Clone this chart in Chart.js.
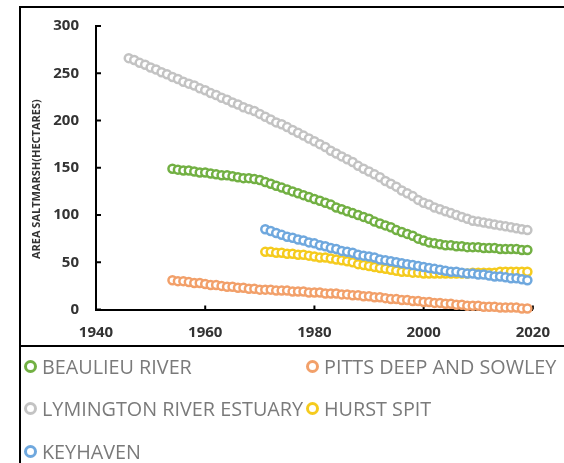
<!DOCTYPE html>
<html>
<head>
<meta charset="utf-8">
<script src="https://cdn.jsdelivr.net/npm/chart.js@4/dist/chart.umd.min.js"></script>
<style>
    body { margin: 0; background: #fff; width: 564px; height: 463px; overflow: hidden; position: relative; }
    .frame { position: absolute; left: 19px; top: 6px; right: 0; bottom: 0; border-left: 2px solid #000; border-top: 2px solid #000; }
    .separator { position: absolute; left: 19px; right: 0; top: 345px; height: 2px; background: #000; }
    .chart-box { position: absolute; left: 0; top: 0; width: 564px; height: 346px; }
    .legend {
        position: absolute; left: 24px; top: 345px;
        display: grid; grid-template-columns: 282px auto; grid-auto-rows: 42.5px;
        font-family: 'Open Sans', sans-serif; font-size: 19.8px; color: #7a7a7a;
    }
    .legend-item { display: flex; align-items: center; white-space: nowrap; }
    .legend-marker { width: 7px; height: 7px; border: 3px solid; border-radius: 50%; background: #fff; margin-right: 5px; flex: none; }
</style>
</head>
<body>
<div class="frame"></div>
<div class="chart-box"><canvas id="saltmarshChart"></canvas></div>
<div class="separator"></div>
<div class="legend" id="legend"></div>
<script>
const years = [
    1946, 1947, 1948, 1949, 1950, 1951, 1952, 1953, 1954, 1955, 1956, 1957, 1958, 1959,
    1960, 1961, 1962, 1963, 1964, 1965, 1966, 1967, 1968, 1969, 1970, 1971, 1972, 1973,
    1974, 1975, 1976, 1977, 1978, 1979, 1980, 1981, 1982, 1983, 1984, 1985, 1986, 1987,
    1988, 1989, 1990, 1991, 1992, 1993, 1994, 1995, 1996, 1997, 1998, 1999, 2000, 2001,
    2002, 2003, 2004, 2005, 2006, 2007, 2008, 2009, 2010, 2011, 2012, 2013, 2014, 2015,
    2016, 2017, 2018, 2019
];

// hectares per year, null = no survey yet
const beaulieuRiver = [
    null, null, null, null, null, null, null, null, 149, 148, 147, 147, 146, 145,
    145, 144, 143, 142, 142, 141, 140, 139, 139, 138, 137, 135, 133, 131,
    129, 127, 125, 123, 121, 119, 117, 115, 113, 111, 108, 106, 104, 102,
    100, 98, 96, 93, 91, 89, 87, 84, 82, 80, 78, 75, 73, 71,
    70, 69, 68, 68, 67, 67, 66, 66, 66, 65, 65, 65, 64, 64,
    64, 64, 63, 63
];
const pittsDeepSowley = [
    null, null, null, null, null, null, null, null, 31, 30, 30, 29, 28, 28,
    27, 26, 26, 25, 24, 24, 23, 23, 22, 22, 21, 21, 21, 20,
    20, 20, 19, 19, 19, 18, 18, 18, 17, 17, 17, 16, 16, 15,
    15, 14, 14, 13, 13, 12, 11, 11, 10, 10, 9, 9, 8, 8,
    7, 7, 6, 6, 5, 5, 4, 4, 4, 3, 3, 3, 2, 2,
    2, 2, 1, 1
];
const lymingtonEstuary = [
    266, 264, 261, 259, 256, 254, 251, 249, 246, 244, 241, 239, 237, 234,
    232, 229, 227, 224, 222, 219, 217, 214, 212, 210, 207, 204, 201, 198,
    196, 193, 190, 187, 184, 181, 178, 175, 172, 168, 165, 162, 159, 156,
    152, 149, 146, 143, 140, 136, 133, 130, 126, 123, 120, 116, 113, 111,
    108, 106, 104, 102, 100, 98, 96, 94, 93, 92, 91, 90, 89, 88,
    87, 86, 85, 84
];
const hurstSpit = [
    null, null, null, null, null, null, null, null, null, null, null, null, null, null,
    null, null, null, null, null, null, null, null, null, null, null, 61, 61, 60,
    60, 59, 59, 58, 58, 57, 56, 55, 55, 54, 53, 52, 51, 50,
    48, 47, 46, 45, 44, 43, 42, 41, 40, 40, 39, 39, 38, 38,
    38, 38, 38, 38, 38, 38, 38, 39, 39, 39, 39, 39, 40, 40,
    40, 40, 40, 40
];
const keyhaven = [
    null, null, null, null, null, null, null, null, null, null, null, null, null, null,
    null, null, null, null, null, null, null, null, null, null, null, 85, 83, 81,
    79, 77, 76, 74, 73, 71, 70, 68, 67, 65, 64, 62, 61, 60,
    58, 57, 56, 55, 53, 52, 51, 50, 49, 48, 47, 46, 45, 44,
    43, 42, 41, 40, 40, 39, 38, 38, 37, 37, 36, 35, 35, 34,
    33, 33, 32, 31
];

const yTicks = [0, 50, 100, 150, 200, 250, 300];
const xTicks = [1940, 1960, 1980, 2000, 2020];

Chart.defaults.font.family = "'Open Sans', sans-serif";

function series(label, data, color, order) {
    return {
        label: label,
        data: data,
        showLine: false,
        borderColor: color,
        backgroundColor: color,
        pointBorderColor: color,
        pointBackgroundColor: '#ffffff',
        pointRadius: 4,
        pointBorderWidth: 2.5,
        pointHoverRadius: 4,
        clip: false,
        order: order
    };
}

// little inward tick marks like the original axes
const innerTicks = {
    id: 'innerTicks',
    beforeDatasetsDraw(chart) {
        const { ctx, scales: { x, y }, chartArea } = chart;
        ctx.save();
        ctx.strokeStyle = '#000';
        ctx.lineWidth = 2;
        yTicks.forEach((v) => {
            const py = y.getPixelForValue(v);
            ctx.beginPath();
            ctx.moveTo(chartArea.left, py);
            ctx.lineTo(chartArea.left + 5, py);
            ctx.stroke();
        });
        xTicks.forEach((v) => {
            const px = x.getPixelForValue(v);
            ctx.beginPath();
            ctx.moveTo(px, chartArea.bottom);
            ctx.lineTo(px, chartArea.bottom - 4);
            ctx.stroke();
        });
        ctx.restore();
    }
};

const ctx = document.getElementById('saltmarshChart').getContext('2d');
const chart = new Chart(ctx, {
    type: 'line',
    data: {
        labels: years,
        datasets: [
            series('BEAULIEU RIVER', beaulieuRiver, '#72b043', 0),
            series('PITTS DEEP AND SOWLEY', pittsDeepSowley, '#f2a06a', 0),
            series('LYMINGTON RIVER ESTUARY', lymingtonEstuary, '#c3c3c3', 0),
            series('HURST SPIT', hurstSpit, '#f5cb1e', 0),
            series('KEYHAVEN', keyhaven, '#6fa8de', -1)
        ]
    },
    options: {
        responsive: true,
        maintainAspectRatio: false,
        animation: false,
        layout: {
            padding: { left: 0, right: 22, top: 24, bottom: 0 }
        },
        plugins: {
            legend: { display: false },
            tooltip: { enabled: false }
        },
        scales: {
            x: {
                type: 'linear',
                min: 1940,
                max: 2020,
                afterFit: (scale) => { scale.height = 36.5; },
                afterBuildTicks: (scale) => { scale.ticks = xTicks.map((v) => ({ value: v })); },
                grid: { display: false, drawTicks: false },
                border: { color: '#000', width: 2 },
                ticks: {
                    padding: 14,
                    color: '#333333',
                    font: { size: 15, weight: 'bold' },
                    callback: (v) => String(v)
                }
            },
            y: {
                min: 0,
                max: 300,
                afterFit: (scale) => { scale.width = 96; },
                afterBuildTicks: (scale) => { scale.ticks = yTicks.map((v) => ({ value: v })); },
                grid: { display: false, drawTicks: false },
                border: { color: '#000', width: 2 },
                ticks: {
                    padding: 17,
                    color: '#333333',
                    font: { size: 15, weight: 'bold' }
                },
                title: {
                    display: true,
                    text: 'AREA SALTMARSH(HECTARES)        ',
                    color: '#333333',
                    font: { size: 11, weight: 'bold' },
                    padding: { top: 30, bottom: 0 }
                }
            }
        }
    },
    plugins: [innerTicks]
});

// HTML legend, two columns like the source figure
const legendEl = document.getElementById('legend');
chart.data.datasets.forEach((ds) => {
    const item = document.createElement('div');
    item.className = 'legend-item';
    const marker = document.createElement('span');
    marker.className = 'legend-marker';
    marker.style.borderColor = ds.borderColor;
    const text = document.createElement('span');
    text.textContent = ds.label;
    item.appendChild(marker);
    item.appendChild(text);
    legendEl.appendChild(item);
});
</script>
</body>
</html>
